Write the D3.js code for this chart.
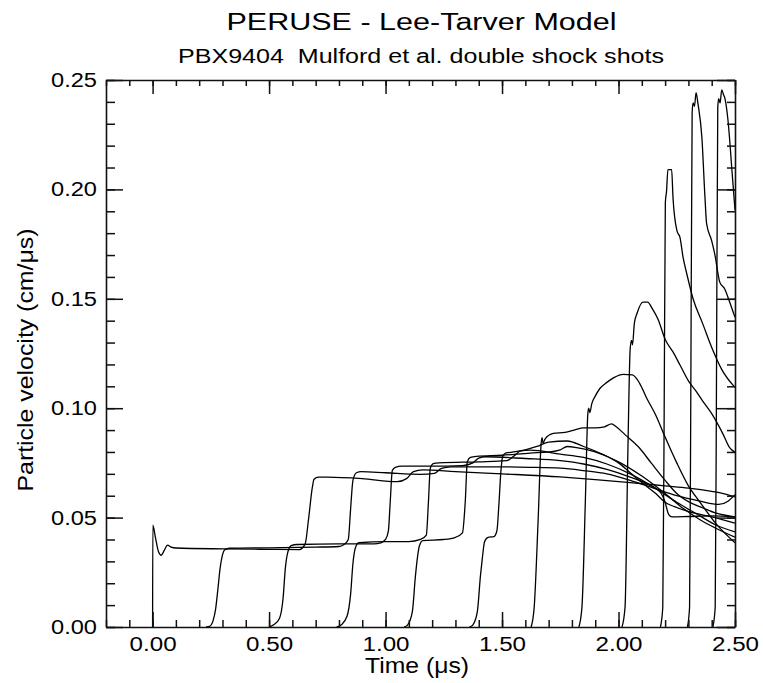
<!DOCTYPE html>
<html>
<head>
<meta charset="utf-8">
<script src="https://cdn.jsdelivr.net/npm/d3@7"></script>
<style>
  body { margin: 0; background: #fff; }
  text { font-family: "Liberation Sans", Arial, sans-serif; fill: #000; }
</style>
</head>
<body>
<div id="chart"></div>
<script>
// gauge records: [time (us), particle velocity (cm/us)]
let gauge1 = [[0.000,0.000],[0.001,0.0465],[0.012,0.041],[0.025,0.0345],[0.037,0.0328],[0.05,0.035],[0.064,0.0374],[0.08,0.0365],[0.1,0.0361],[0.3,0.0357],[0.5,0.0355],[0.63,0.0354],[0.655,0.038],[0.669,0.0489],[0.686,0.064],[0.693,0.0675],[0.712,0.0685],[0.75,0.0685],[0.9,0.0678],[1.05,0.0664],[1.09,0.0678],[1.12,0.071],[1.16,0.0718],[1.3,0.071],[1.5,0.070],[1.75,0.0686],[1.9,0.0674],[2.05,0.066],[2.2,0.0645],[2.3,0.0635],[2.4,0.062],[2.45,0.061],[2.5,0.0595]];
let gauge2 = [[0.23,0],[0.245,0.0003],[0.26,0.003],[0.27,0.0078],[0.28,0.017],[0.29,0.027],[0.30,0.033],[0.31,0.0353],[0.33,0.036],[0.5,0.0362],[0.7,0.0365],[0.80,0.0368],[0.82,0.0376],[0.84,0.040],[0.85,0.054],[0.86,0.067],[0.875,0.0705],[0.895,0.071],[1.0,0.0705],[1.15,0.0698],[1.21,0.0702],[1.24,0.0725],[1.28,0.0732],[1.45,0.0732],[1.62,0.073],[1.75,0.0726],[1.85,0.0715],[1.95,0.070],[2.05,0.067],[2.15,0.0635],[2.25,0.060],[2.35,0.0575],[2.43,0.056],[2.47,0.0575],[2.5,0.0605]];
let gauge3 = [[0.50,0],[0.52,0.001],[0.545,0.004],[0.56,0.013],[0.57,0.027],[0.58,0.034],[0.595,0.0372],[0.62,0.0377],[0.8,0.038],[0.95,0.038],[0.98,0.0385],[1.0,0.040],[1.012,0.0438],[1.02,0.057],[1.029,0.0715],[1.042,0.073],[1.07,0.0735],[1.2,0.0735],[1.33,0.0738],[1.375,0.075],[1.40,0.0772],[1.43,0.0778],[1.6,0.077],[1.75,0.076],[1.85,0.0745],[1.95,0.072],[2.05,0.0685],[2.12,0.0655],[2.18,0.0615],[2.2,0.057],[2.215,0.0515],[2.23,0.0503],[2.3,0.0505],[2.4,0.0508],[2.5,0.0503]];
let gauge4 = [[0.79,0],[0.81,0.001],[0.835,0.005],[0.85,0.015],[0.86,0.029],[0.87,0.036],[0.885,0.0385],[1.0,0.039],[1.10,0.039],[1.15,0.040],[1.175,0.042],[1.184,0.057],[1.192,0.0725],[1.205,0.0747],[1.23,0.075],[1.4,0.0755],[1.52,0.076],[1.55,0.078],[1.58,0.0805],[1.62,0.0808],[1.75,0.079],[1.85,0.0775],[1.95,0.0745],[2.05,0.070],[2.15,0.064],[2.25,0.057],[2.33,0.052],[2.42,0.0465],[2.5,0.0435]];
let gauge5 = [[1.08,0],[1.095,0.001],[1.115,0.007],[1.128,0.023],[1.136,0.031],[1.145,0.037],[1.16,0.0395],[1.25,0.040],[1.30,0.041],[1.33,0.043],[1.342,0.057],[1.351,0.0755],[1.364,0.0775],[1.39,0.078],[1.5,0.0785],[1.62,0.0795],[1.70,0.080],[1.75,0.081],[1.78,0.0825],[1.82,0.082],[1.9,0.080],[2.0,0.0755],[2.1,0.069],[2.2,0.061],[2.28,0.054],[2.35,0.049],[2.42,0.045],[2.5,0.041]];
let gauge6 = [[1.36,0],[1.375,0.001],[1.394,0.007],[1.407,0.023],[1.415,0.031],[1.425,0.039],[1.44,0.041],[1.465,0.0413],[1.478,0.044],[1.486,0.055],[1.495,0.071],[1.503,0.078],[1.515,0.0795],[1.55,0.080],[1.6,0.081],[1.65,0.0825],[1.7,0.0845],[1.78,0.085],[1.85,0.0825],[1.93,0.079],[2.0,0.075],[2.05,0.0705],[2.1,0.066],[2.16,0.061],[2.2,0.057],[2.24,0.055],[2.31,0.0525],[2.4,0.0503],[2.5,0.0475]];
let gauge7 = [[1.625,0],[1.638,0.009],[1.655,0.049],[1.668,0.084],[1.672,0.0865],[1.676,0.084],[1.685,0.086],[1.72,0.0885],[1.77,0.089],[1.81,0.090],[1.85,0.091],[1.90,0.091],[1.94,0.0915],[1.97,0.0928],[1.99,0.0915],[2.03,0.0877],[2.09,0.0818],[2.14,0.075],[2.2,0.067],[2.25,0.061],[2.31,0.0567],[2.36,0.0545],[2.42,0.052],[2.5,0.0503]];
let gauge8 = [[1.83,0],[1.843,0.009],[1.858,0.059],[1.868,0.097],[1.872,0.100],[1.877,0.098],[1.885,0.102],[1.90,0.1055],[1.92,0.109],[1.95,0.1118],[1.98,0.114],[2.02,0.1155],[2.06,0.1152],[2.09,0.1115],[2.12,0.1048],[2.16,0.0968],[2.2,0.0868],[2.25,0.075],[2.3,0.0645],[2.35,0.057],[2.42,0.047],[2.5,0.0385]];
let gauge9 = [[2.015,0],[2.028,0.009],[2.04,0.079],[2.05,0.127],[2.056,0.131],[2.06,0.129],[2.068,0.1388],[2.08,0.1435],[2.105,0.1485],[2.125,0.1485],[2.145,0.1455],[2.17,0.1405],[2.2,0.1315],[2.235,0.1255],[2.265,0.1195],[2.3,0.1125],[2.335,0.1075],[2.36,0.1035],[2.4,0.0975],[2.447,0.0885],[2.477,0.082],[2.5,0.0798]];
let gauge10 = [[2.18,0],[2.19,0.009],[2.196,0.099],[2.201,0.194],[2.206,0.199],[2.212,0.209],[2.228,0.209],[2.234,0.196],[2.251,0.181],[2.264,0.178],[2.277,0.169],[2.294,0.161],[2.32,0.150],[2.36,0.139],[2.405,0.1265],[2.444,0.1175],[2.5,0.1095]];
let gauge11 = [[2.296,0],[2.305,0.009],[2.31,0.099],[2.316,0.235],[2.32,0.2395],[2.326,0.238],[2.333,0.2442],[2.341,0.2392],[2.358,0.2235],[2.371,0.1965],[2.378,0.1845],[2.40,0.1765],[2.413,0.1705],[2.435,0.1575],[2.456,0.1545],[2.477,0.1485],[2.5,0.1415]];
let gauge12 = [[2.405,0],[2.415,0.009],[2.42,0.099],[2.426,0.2375],[2.43,0.2415],[2.436,0.2395],[2.443,0.2455],[2.45,0.2435],[2.457,0.2415],[2.47,0.2315],[2.487,0.2085],[2.5,0.1905]];

let gauges = [gauge1, gauge2, gauge3, gauge4, gauge5, gauge6, gauge7, gauge8, gauge9, gauge10, gauge11, gauge12];

// tick values
let xMajorTicks = [0, 0.5, 1.0, 1.5, 2.0, 2.5];
let xMinorTicks = d3.range(-2, 26).map(i => i / 10);
let yMajorTicks = [0, 0.05, 0.10, 0.15, 0.20, 0.25];
let yMinorTicks = d3.range(0, 26).map(i => i / 100);

//defining svg properties
let svgWidth = 763;
let svgHeight = 683;

let margin = {
  top: 80,
  right: 28,
  bottom: 56,
  left: 106
};

let width = svgWidth - margin.left - margin.right;
let height = svgHeight - margin.top - margin.bottom;

let svg = d3.select("#chart")
  .append("svg")
  .attr("width", svgWidth)
  .attr("height", svgHeight);

let chartGroup = svg.append("g")
  .attr("transform", `translate(${margin.left}, ${margin.top})`);

//scales
let xScale = d3.scaleLinear()
  .domain([-0.2, 2.5])
  .range([0, width]);
let yScale = d3.scaleLinear()
  .domain([0, 0.25])
  .range([height, 0]);

//clip the traces to the plot box
svg.append("defs").append("clipPath")
  .attr("id", "plotClip")
  .append("rect")
  .attr("width", width)
  .attr("height", height);

//traces
let line = d3.line()
  .x(d => xScale(d[0]))
  .y(d => yScale(d[1]))
  .curve(d3.curveMonotoneX);

chartGroup.append("g")
  .attr("clip-path", "url(#plotClip)")
  .selectAll("path")
  .data(gauges)
  .enter()
  .append("path")
  .attr("d", line)
  .attr("fill", "none")
  .attr("stroke", "#000")
  .attr("stroke-width", 1.3);

// helper to add an axis with inward ticks
function addAxis(axis, transform, showDomain) {
  let g = chartGroup.append("g")
    .attr("transform", transform)
    .call(axis);
  g.selectAll("line").attr("stroke", "#111").attr("stroke-width", 1.5);
  g.select(".domain").attr("stroke", "#111").attr("stroke-width", 1.6);
  if (!showDomain) g.select(".domain").remove();
  g.attr("font-family", null).attr("font-size", null);
  return g;
}

let fmt = d3.format(".2f");

//bottom axis
let xAxisMajor = addAxis(d3.axisBottom(xScale).tickValues(xMajorTicks)
  .tickSizeInner(-15).tickSizeOuter(0).tickPadding(9).tickFormat(fmt),
  `translate(0,${height})`, true);
addAxis(d3.axisBottom(xScale).tickValues(xMinorTicks)
  .tickSizeInner(-7).tickSizeOuter(0).tickFormat(""),
  `translate(0,${height})`, false);

//top axis
addAxis(d3.axisTop(xScale).tickValues(xMajorTicks)
  .tickSizeInner(-14).tickSizeOuter(0).tickFormat(""), "translate(0,0)", true);
addAxis(d3.axisTop(xScale).tickValues(xMinorTicks)
  .tickSizeInner(-6).tickSizeOuter(0).tickFormat(""), "translate(0,0)", false);

//left axis
let yAxisMajor = addAxis(d3.axisLeft(yScale).tickValues(yMajorTicks)
  .tickSizeInner(-17).tickSizeOuter(0).tickPadding(9).tickFormat(fmt),
  "translate(0,0)", true);
addAxis(d3.axisLeft(yScale).tickValues(yMinorTicks)
  .tickSizeInner(-9).tickSizeOuter(0).tickFormat(""), "translate(0,0)", false);

//right axis
addAxis(d3.axisRight(yScale).tickValues(yMajorTicks)
  .tickSizeInner(-18).tickSizeOuter(0).tickFormat(""), `translate(${width},0)`, true);
addAxis(d3.axisRight(yScale).tickValues(yMinorTicks)
  .tickSizeInner(-8).tickSizeOuter(0).tickFormat(""), `translate(${width},0)`, false);

//tick label styling (the original lettering is a bit wide)
xAxisMajor.selectAll("text")
  .attr("font-size", 20.5)
  .attr("textLength", 47)
  .attr("lengthAdjust", "spacingAndGlyphs");
yAxisMajor.selectAll("text")
  .attr("font-size", 20.5)
  .attr("textLength", 46)
  .attr("lengthAdjust", "spacingAndGlyphs");

//titles
svg.append("text")
  .attr("x", 421.5)
  .attr("y", 30)
  .attr("text-anchor", "middle")
  .attr("font-size", 23.5)
  .attr("textLength", 390)
  .attr("lengthAdjust", "spacingAndGlyphs")
  .text("PERUSE - Lee-Tarver Model");

svg.append("text")
  .attr("x", 421)
  .attr("y", 62.5)
  .attr("text-anchor", "middle")
  .attr("font-size", 20)
  .attr("textLength", 486)
  .attr("lengthAdjust", "spacingAndGlyphs")
  .style("white-space", "pre")
  .text("PBX9404  Mulford et al. double shock shots");

//axis labels
svg.append("text")
  .attr("x", 417)
  .attr("y", 673)
  .attr("text-anchor", "middle")
  .attr("font-size", 22)
  .attr("textLength", 104)
  .attr("lengthAdjust", "spacingAndGlyphs")
  .text("Time (\u03bcs)");

svg.append("text")
  .attr("transform", "translate(33,360) rotate(-90)")
  .attr("text-anchor", "middle")
  .attr("font-size", 22)
  .attr("textLength", 263)
  .attr("lengthAdjust", "spacingAndGlyphs")
  .text("Particle velocity (cm/\u03bcs)");
</script>
</body>
</html>
